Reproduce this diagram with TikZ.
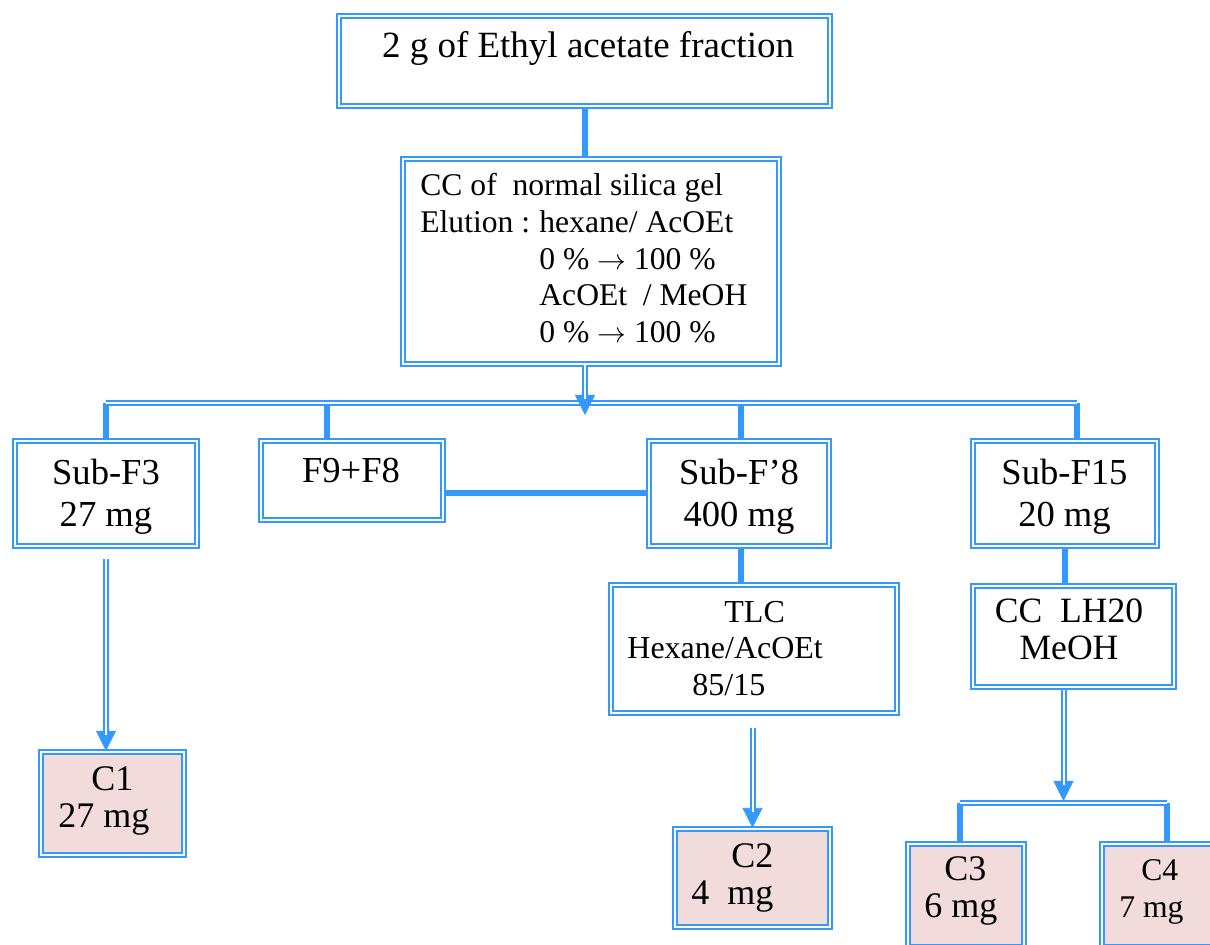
\documentclass[tikz,border=0pt]{standalone}
\usepackage{fontspec}
\setmainfont{Liberation Serif}
\usetikzlibrary{arrows.meta}
\definecolor{flowblue}{RGB}{51,153,255}
\definecolor{yieldpink}{RGB}{242,220,219}
% double-line arrow: thin line carrying the tip, double shaft on top
\newcommand\flowarrow[3][]{%
  \draw[flowblue, line width=0.4pt, -{Triangle[width=10pt,length=10pt]}, #1] #2 -- #3;
  \draw[dbl, shorten >=8pt, #1] #2 -- #3;}
\tikzset{
  box/.style={draw=flowblue, double=white, line width=0.95pt, double distance=0.9pt, inner sep=0pt, fill=white},
  yieldbox/.style={box, fill=yieldpink},
  dbl/.style={draw=flowblue, double=white, line width=1pt, double distance=1pt},
  link/.style={draw=flowblue, line width=3pt},
  txt/.style={inner sep=0pt, text=black},
}
\begin{document}
\begin{tikzpicture}[x=0.5pt, y=-0.5pt]
\useasboundingbox (0,0) rectangle (1210,945);
\clip (0,0) rectangle (1210,945);

% boxes
\node[box, minimum width=245.7pt, minimum height=45.2pt] (top) at (584.5,61) {};
\node[box, minimum width=188.2pt, minimum height=102.7pt] (cc) at (591,261.5) {};
\node[box, minimum width=91.2pt, minimum height=52.7pt] (subf3) at (106,493.5) {};
\node[box, minimum width=91.2pt, minimum height=39.7pt] (f98) at (352,480.5) {};
\node[box, minimum width=90.2pt, minimum height=52.7pt] (subf8) at (739,493.5) {};
\node[box, minimum width=92.2pt, minimum height=52.7pt] (subf15) at (1065,493.5) {};
\node[box, minimum width=143.2pt, minimum height=64.2pt] (tlc) at (754,649) {};
\node[box, minimum width=100.7pt, minimum height=50.7pt] (cclh) at (1073.5,636.5) {};
\node[yieldbox, minimum width=71.7pt, minimum height=51.7pt] (c1) at (112.5,803.5) {};
\node[yieldbox, minimum width=77.7pt, minimum height=49.2pt] (c2) at (752.5,878) {};
\node[yieldbox, minimum width=58.2pt, minimum height=51.7pt] (c3) at (966,895.5) {};
\node[yieldbox, minimum width=58.7pt, minimum height=51.7pt] (c4) at (1160.5,895.5) {};

% texts
\node[txt, anchor=base, font=\fontsize{18.5}{22}\selectfont] (toptext) at (588,58) {2 g of Ethyl acetate fraction};
\node[txt, anchor=north west, align=left, font=\fontsize{15.8}{18.4}\selectfont] (cctext) at (420,169.3)
  {\strut CC of\ \ normal silica gel\\
   \makebox[59.5pt][l]{Elution :}hexane/ AcOEt\\
   \hspace*{59.5pt}0 \% $\rightarrow$ 100 \%\\
   \hspace*{59.5pt}AcOEt\ \ / MeOH\\
   \hspace*{59.5pt}0 \% $\rightarrow$ 100 \%};
\node[txt, anchor=north, align=center, font=\fontsize{18.3}{21}\selectfont] (subf3text) at (106,454.6) {\strut Sub-F3\\27 mg};
\node[txt, anchor=base, font=\fontsize{18.3}{21}\selectfont] (f98text) at (351,483) {F9+F8};
\node[txt, anchor=north, align=center, font=\fontsize{18.3}{21}\selectfont] (subf8text) at (739,454.6) {\strut Sub-F’8\\400 mg};
\node[txt, anchor=north, align=center, font=\fontsize{18.3}{21}\selectfont] (subf15text) at (1064.5,454.6) {\strut Sub-F15\\20 mg};
\node[txt, anchor=north west, align=left, font=\fontsize{16}{18.25}\selectfont] (tlctext) at (627,596.45)
  {\strut\hspace*{48.5pt}TLC\\Hexane/AcOEt\\\hspace*{32.5pt}85/15};
\node[txt, anchor=north, align=center, font=\fontsize{17.8}{18.5}\selectfont] (cclhtext) at (1069,596.1) {\strut CC\ \ LH20\\MeOH};
\node[txt, anchor=north west, align=left, font=\fontsize{18}{18.5}\selectfont] (c1text) at (58,764.1) {\strut\hspace*{16.5pt}C1\\27 mg};
\node[txt, anchor=north west, align=left, font=\fontsize{18}{18.5}\selectfont] (c2text) at (691,841.1) {\strut\hspace*{20pt}C2\\4\ \ mg};
\node[txt, anchor=north west, align=left, font=\fontsize{18}{18.5}\selectfont] (c3text) at (924,854.1) {\strut\hspace*{10pt}C3\\6 mg};
\node[txt, anchor=north west, align=left, font=\fontsize{15.8}{18.5}\selectfont] (c4text) at (1119,854.1) {\strut\hspace*{11pt}C4\\7 mg};

% bus points
\coordinate (busL) at (105.5,403);
\coordinate (busF98) at (326.5,403);
\coordinate (busF8) at (741,403);
\coordinate (busR) at (1077,403);
\coordinate (cctip) at (585,415);
\coordinate (lbL) at (960,803);
\coordinate (lbR) at (1167,803);
\coordinate (lbtip) at (1063.5,801);

% solid links
\draw[link] (top.south) -- (top.south |- cc.north);
\draw[link] (busL) -- (busL |- subf3.north);
\draw[link] (busF98) -- (busF98 |- f98.north);
\draw[link] (busF8) -- (busF8 |- subf8.north);
\draw[link] (busR) -- (busR |- subf15.north);
\draw[link] (subf8.west) -- (subf8.west -| f98.east);
\draw[link] (busF8 |- subf8.south) -- (busF8 |- tlc.north);
\draw[link] (subf15.south) -- (subf15.south |- cclh.north);
\draw[link] (lbL) -- (lbL |- c3.north);
\draw[link] (lbR) -- (lbR |- c4.north);

% distribution lines
\draw[dbl] (busL) -- (busR);
\draw[dbl] (lbL) -- (lbR);

% arrows
\flowarrow{(cc.south -| cctip)}{(cctip)}
\flowarrow[shorten <=6pt]{(subf3.south)}{(subf3.south |- c1.north)}
\flowarrow[shorten <=7pt]{(tlc.south -| c2.north)}{(c2.north)}
\flowarrow[shorten <=1pt]{(cclh.south -| lbtip)}{(lbtip)}
\end{tikzpicture}
\end{document}
